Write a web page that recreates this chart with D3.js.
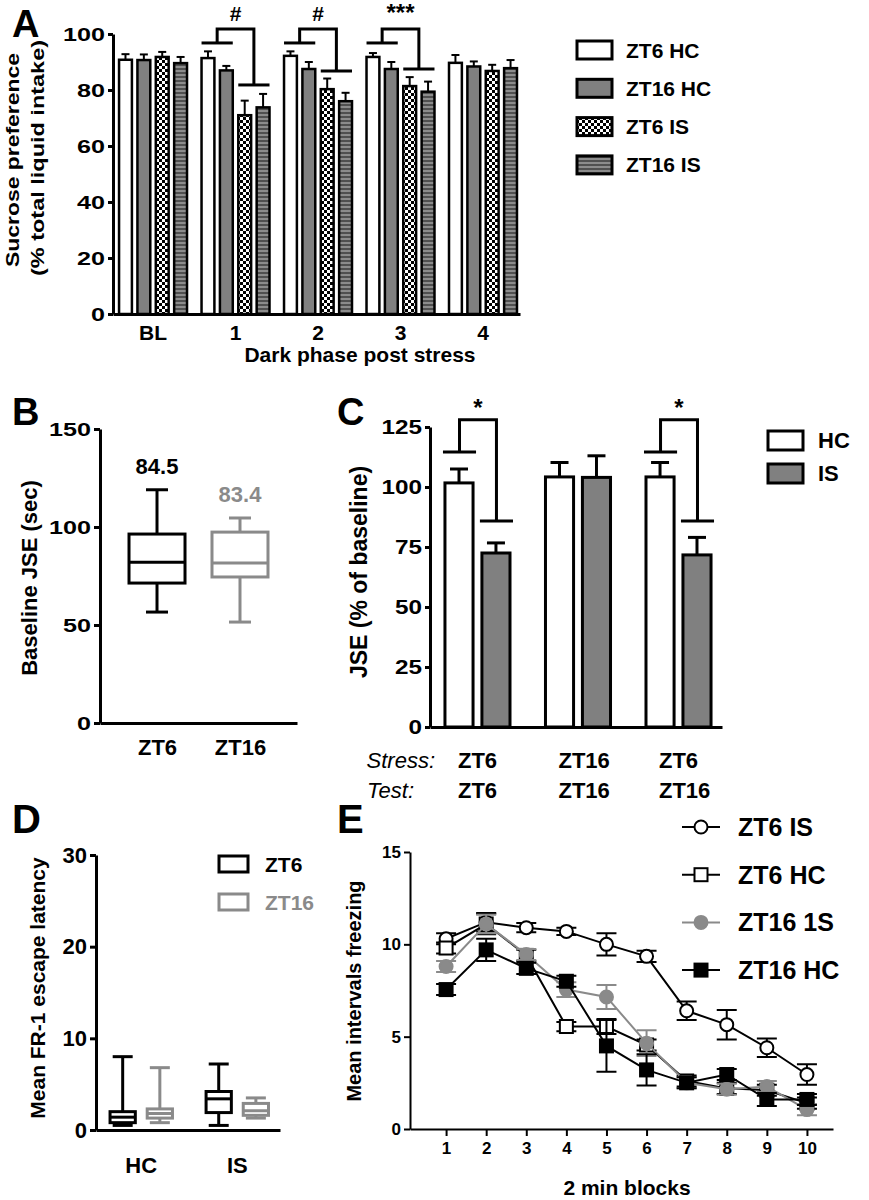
<!DOCTYPE html>
<html lang="en">
<head>
  <meta charset="utf-8" />
  <title>Stress timing figure</title>
  <script src="https://d3js.org/d3.v7.min.js"></script>
  <style>
    body { margin: 0; background: #fff; }
    svg text {
      font-family: "Liberation Sans", Arial, Helvetica, sans-serif;
      font-weight: bold;
      fill: #000;
    }
    .axis path, .axis line { stroke: #000; }
  </style>
</head>
<body>
<svg id="fig" width="869" height="1200"></svg>
<script>
/* ===== DATA ===== */

// A) sucrose preference, mean and SEM per dark phase
const phaseLabels = ["BL", "1", "2", "3", "4"];
const groupNamesA = ["ZT6 HC", "ZT16 HC", "ZT6 IS", "ZT16 IS"];
const sucZT6HC  = [90.8, 91.4, 92.2, 91.8, 89.7];
const sucZT16HC = [90.7, 87.0, 87.5, 87.5, 88.4];
const sucZT6IS  = [91.8, 71.0, 80.3, 81.4, 86.8];
const sucZT16IS = [89.6, 73.8, 76.0, 79.4, 87.8];
const semZT6HC  = [2.0, 2.4, 1.6, 1.4, 2.8];
const semZT16HC = [2.0, 1.6, 2.5, 2.5, 1.8];
const semZT6IS  = [1.8, 5.2, 3.8, 3.2, 2.2];
const semZT16IS = [2.2, 4.8, 3.0, 3.6, 2.9];
const sigPhasesA = ["1", "2", "3"];
const sigMarksA = ["#", "#", "***"];
const sigLeftA = [96.8, 96.8, 96.8];
const sigTopA = [101.8, 101.8, 101.8];
const sigRightA = [81.8, 86.8, 87.5];

// B) baseline JSE box plots: [min, q1, median, q3, max]
const groupsB = ["ZT6", "ZT16"];
const boxB = [[56.6, 71.4, 82.0, 96.4, 119.0], [51.5, 74.5, 81.6, 97.4, 104.6]];
const meanLabelsB = ["84.5", "83.4"];

// C) JSE % of baseline
const condC = ["ZT6/ZT6", "ZT16/ZT16", "ZT6/ZT16"];
const stressC = ["ZT6", "ZT16", "ZT6"];
const testC = ["ZT6", "ZT16", "ZT16"];
const seriesC = ["HC", "IS"];
const jseHC = [101.7, 104.2, 104.2];
const jseIS = [72.5, 104.0, 71.7];
const semHC_C = [5.8, 6.0, 6.0];
const semIS_C = [4.2, 9.0, 7.3];
const sigCondC = ["ZT6/ZT6", "ZT6/ZT16"];
const sigLeftC = [114.6, 114.6];
const sigTopC = [128, 128];
const sigRightC = [85.8, 85.8];

// D) FR-1 escape latency box plots: [min, q1, median, q3, max]
const condD = ["HC", "IS"];
const seriesD = ["ZT6", "ZT16"];
const boxD_ZT6  = [[0.5, 0.8, 1.4, 2.0, 8.0], [0.5, 1.9, 3.4, 4.2, 7.2]];
const boxD_ZT16 = [[0.8, 1.3, 1.8, 2.3, 6.8], [1.3, 1.6, 2.1, 2.9, 3.5]];

// E) freezing across 2 min blocks
const blocks = [1, 2, 3, 4, 5, 6, 7, 8, 9, 10];
const seriesE = ["ZT6 IS", "ZT6 HC", "ZT16 1S", "ZT16 HC"];
const frzZT6IS  = [10.3, 11.2, 10.9, 10.7, 10.0, 9.35, 6.4, 5.65, 4.4, 2.95];
const frzZT6HC  = [9.8, 11.1, 9.4, 5.55, 5.55, 4.55, 2.6, 2.2, 2.1, 1.4];
const frzZT16IS = [8.8, 11.1, 9.45, 7.55, 7.15, 4.65, 2.5, 2.15, 2.3, 1.05];
const frzZT16HC = [7.55, 9.7, 8.7, 8.0, 4.5, 3.2, 2.5, 2.95, 1.6, 1.6];
const errZT6IS  = [0.3, 0.5, 0.25, 0.2, 0.6, 0.3, 0.5, 0.8, 0.5, 0.55];
const errZT6HC  = [0.3, 0.55, 0.3, 0.25, 0.4, 0.3, 0.3, 0.3, 0.3, 0.3];
const errZT16IS = [0.3, 0.5, 0.3, 0.4, 0.65, 0.7, 0.3, 0.3, 0.3, 0.3];
const errZT16HC = [0.3, 0.6, 0.3, 0.3, 1.4, 0.85, 0.3, 0.3, 0.35, 0.3];

/* ===== SETUP ===== */
const svg = d3.select("#fig");
const GRAY = "#8a8a8a";

const defs = svg.append("defs");
const chk = defs.append("pattern").attr("id", "checker")
  .attr("patternUnits", "userSpaceOnUse").attr("width", 6).attr("height", 6);
chk.append("rect").attr("width", 6).attr("height", 6).attr("fill", "#fff");
chk.append("rect").attr("width", 3).attr("height", 3).attr("fill", "#000");
chk.append("rect").attr("x", 3).attr("y", 3).attr("width", 3).attr("height", 3).attr("fill", "#000");
const stp = defs.append("pattern").attr("id", "stripes")
  .attr("patternUnits", "userSpaceOnUse").attr("width", 4).attr("height", 4);
stp.append("rect").attr("width", 4).attr("height", 4).attr("fill", "#8c8c8c");
stp.append("rect").attr("width", 4).attr("height", 2).attr("fill", "#505050");
const fillsA = ["#fff", "#808080", "url(#checker)", "url(#stripes)"];

// style a d3 axis group
function styleAxis(g, sw, fs, charW) {
  g.attr("class", "axis").attr("font-family", null).attr("font-size", null);
  g.select(".domain").attr("stroke-width", sw);
  g.selectAll(".tick line").attr("stroke-width", sw);
  const t = g.selectAll(".tick text").style("font-size", fs + "px");
  if (charW) {
    t.attr("textLength", function () { return this.textContent.length * charW; })
     .attr("lengthAdjust", "spacingAndGlyphs");
  }
}

function yTitle(x, y, txt, fs, len) {
  const t = svg.append("text")
    .attr("transform", `translate(${x},${y}) rotate(-90)`)
    .attr("text-anchor", "middle")
    .style("font-size", fs + "px")
    .text(txt);
  if (len) t.attr("textLength", len).attr("lengthAdjust", "spacingAndGlyphs");
  return t;
}

function panelLetter(x, y, ch, fs) {
  svg.append("text").attr("x", x).attr("y", y).style("font-size", fs + "px").text(ch);
}

/* ===== A) SUCROSE PREFERENCE ===== */
const xA = d3.scaleBand().domain(phaseLabels).range([113, 520])
  .paddingInner(0.176).paddingOuter(0.055).align(0.667);
const xA1 = d3.scaleBand().domain(groupNamesA).range([0, xA.bandwidth()]).paddingInner(0.3);
const yA = d3.scaleLinear().domain([0, 100]).range([314, 34]);
const valsA = [sucZT6HC, sucZT16HC, sucZT6IS, sucZT16IS];
const semsA = [semZT6HC, semZT16HC, semZT6IS, semZT16IS];

groupNamesA.forEach((name, s) => {
  const rows = phaseLabels.map((p, i) => ({ p, v: valsA[s][i], e: semsA[s][i] }));
  const g = svg.append("g");
  const cx = d => xA(d.p) + xA1(name) + xA1.bandwidth() / 2;
  g.selectAll("line.err").data(rows).enter().append("line")
    .attr("x1", cx).attr("x2", cx)
    .attr("y1", d => yA(d.v)).attr("y2", d => yA(d.v + d.e))
    .attr("stroke", "#000").attr("stroke-width", 2);
  g.selectAll("line.cap").data(rows).enter().append("line")
    .attr("x1", d => cx(d) - 4).attr("x2", d => cx(d) + 4)
    .attr("y1", d => yA(d.v + d.e)).attr("y2", d => yA(d.v + d.e))
    .attr("stroke", "#000").attr("stroke-width", 2);
  g.selectAll("rect").data(rows).enter().append("rect")
    .attr("x", d => xA(d.p) + xA1(name))
    .attr("y", d => yA(d.v))
    .attr("width", xA1.bandwidth())
    .attr("height", d => yA(0) - yA(d.v))
    .attr("fill", fillsA[s]).attr("stroke", "#000").attr("stroke-width", 2.5);
});

// significance brackets
sigPhasesA.forEach((p, i) => {
  const l0 = xA(p) + xA1(groupNamesA[0]), l1 = xA(p) + xA1(groupNamesA[1]) + xA1.bandwidth();
  const r0 = xA(p) + xA1(groupNamesA[2]), r1 = xA(p) + xA1(groupNamesA[3]) + xA1.bandwidth();
  const lm = (l0 + l1) / 2, rm = (r0 + r1) / 2;
  const g = svg.append("g").attr("fill", "none").attr("stroke", "#000").attr("stroke-width", 3);
  g.append("line").attr("x1", l0).attr("x2", l1).attr("y1", yA(sigLeftA[i])).attr("y2", yA(sigLeftA[i]));
  g.append("line").attr("x1", r0).attr("x2", r1).attr("y1", yA(sigRightA[i])).attr("y2", yA(sigRightA[i]));
  g.append("path").attr("d",
    `M${lm},${yA(sigLeftA[i])}V${yA(sigTopA[i])}H${rm}V${yA(sigRightA[i])}`);
  svg.append("text").attr("x", (lm + rm) / 2).attr("y", yA(sigTopA[i]) - 8)
    .attr("text-anchor", "middle").style("font-size", sigMarksA[i] === "#" ? "21px" : "24px")
    .text(sigMarksA[i]);
});

const gAy = svg.append("g").attr("transform", "translate(113,0)")
  .call(d3.axisLeft(yA).tickValues([0, 20, 40, 60, 80, 100]).tickSize(5).tickSizeOuter(0).tickPadding(3));
styleAxis(gAy, 3, 19, 14);
const gAx = svg.append("g").attr("transform", "translate(0,314)")
  .call(d3.axisBottom(xA).tickSize(0).tickSizeOuter(0).tickPadding(11));
styleAxis(gAx, 3, 21);
svg.append("text").attr("x", 360).attr("y", 362).attr("text-anchor", "middle")
  .style("font-size", "21px").text("Dark phase post stress");
yTitle(19, 160, "Sucrose preference", 18, 214);
yTitle(44, 158, "(% total liquid intake)", 18, 236);
panelLetter(12, 37, "A", 38);

// legend A
groupNamesA.forEach((name, s) => {
  const cy = 50 + s * 38.3;
  svg.append("rect").attr("x", 577).attr("y", cy - 9).attr("width", 35).attr("height", 18)
    .attr("fill", fillsA[s]).attr("stroke", "#000").attr("stroke-width", 3);
  svg.append("text").attr("x", 626).attr("y", cy + 7.5).style("font-size", "21px").text(name);
});

/* ===== B) BASELINE JSE ===== */
const xB = d3.scalePoint().domain(groupsB).range([100, 297]).padding(0.687);
const yB = d3.scaleLinear().domain([0, 150]).range([723, 429]);
const colB = ["#000", GRAY];

groupsB.forEach((name, i) => {
  const [mn, q1, md, q3, mx] = boxB[i];
  const cx = xB(name);
  const g = svg.append("g").attr("stroke", colB[i]).attr("stroke-width", 3).attr("fill", "none");
  g.append("line").attr("x1", cx).attr("x2", cx).attr("y1", yB(mx)).attr("y2", yB(q3));
  g.append("line").attr("x1", cx).attr("x2", cx).attr("y1", yB(q1)).attr("y2", yB(mn));
  g.append("line").attr("x1", cx - 11).attr("x2", cx + 11).attr("y1", yB(mx)).attr("y2", yB(mx));
  g.append("line").attr("x1", cx - 11).attr("x2", cx + 11).attr("y1", yB(mn)).attr("y2", yB(mn));
  g.append("rect").attr("x", cx - 28).attr("width", 56)
    .attr("y", yB(q3)).attr("height", yB(q1) - yB(q3));
  g.append("line").attr("x1", cx - 28).attr("x2", cx + 28).attr("y1", yB(md)).attr("y2", yB(md));
  svg.append("text").attr("x", cx).attr("y", yB(mx) - 16).attr("text-anchor", "middle")
    .style("font-size", "22px").style("fill", colB[i]).text(meanLabelsB[i]);
});

const gBy = svg.append("g").attr("transform", "translate(100,0)")
  .call(d3.axisLeft(yB).tickValues([0, 50, 100, 150]).tickSize(6).tickSizeOuter(0).tickPadding(3));
styleAxis(gBy, 3, 19, 14);
const gBx = svg.append("g").attr("transform", "translate(0,723)")
  .call(d3.axisBottom(xB).tickSize(0).tickSizeOuter(0).tickPadding(16));
styleAxis(gBx, 3, 22);
yTitle(37, 578, "Baseline JSE (sec)", 22);
panelLetter(12, 425, "B", 38);

/* ===== C) JSE % BASELINE ===== */
const xC = d3.scaleBand().domain(condC).range([430, 722])
  .paddingInner(0.353).paddingOuter(0.129).align(0.577);
const xC1 = d3.scaleBand().domain(seriesC).range([0, xC.bandwidth()]).paddingInner(0.24);
const yC = d3.scaleLinear().domain([0, 125]).range([727, 427]);
const valsC = [jseHC, jseIS];
const semsC = [semHC_C, semIS_C];
const fillsC = ["#fff", "#808080"];

seriesC.forEach((name, s) => {
  const rows = condC.map((c, i) => ({ c, v: valsC[s][i], e: semsC[s][i] }));
  const g = svg.append("g");
  const cx = d => xC(d.c) + xC1(name) + xC1.bandwidth() / 2;
  g.selectAll("line.err").data(rows).enter().append("line")
    .attr("x1", cx).attr("x2", cx).attr("y1", d => yC(d.v)).attr("y2", d => yC(d.v + d.e))
    .attr("stroke", "#000").attr("stroke-width", 3);
  g.selectAll("line.cap").data(rows).enter().append("line")
    .attr("x1", d => cx(d) - 9).attr("x2", d => cx(d) + 9)
    .attr("y1", d => yC(d.v + d.e)).attr("y2", d => yC(d.v + d.e))
    .attr("stroke", "#000").attr("stroke-width", 3);
  g.selectAll("rect").data(rows).enter().append("rect")
    .attr("x", d => xC(d.c) + xC1(name)).attr("y", d => yC(d.v))
    .attr("width", xC1.bandwidth()).attr("height", d => yC(0) - yC(d.v))
    .attr("fill", fillsC[s]).attr("stroke", "#000").attr("stroke-width", 3);
});

sigCondC.forEach((c, i) => {
  const l0 = xC(c) + xC1("HC") - 2, l1 = xC(c) + xC1("HC") + xC1.bandwidth() + 3;
  const r0 = xC(c) + xC1("IS") - 2, r1 = xC(c) + xC1("IS") + xC1.bandwidth() + 3;
  const lm = (l0 + l1) / 2, rm = (r0 + r1) / 2;
  const g = svg.append("g").attr("fill", "none").attr("stroke", "#000").attr("stroke-width", 3);
  g.append("line").attr("x1", l0).attr("x2", l1).attr("y1", yC(sigLeftC[i])).attr("y2", yC(sigLeftC[i]));
  g.append("line").attr("x1", r0).attr("x2", r1).attr("y1", yC(sigRightC[i])).attr("y2", yC(sigRightC[i]));
  g.append("path").attr("d", `M${lm},${yC(sigLeftC[i])}V${yC(sigTopC[i])}H${rm}V${yC(sigRightC[i])}`);
  svg.append("text").attr("x", (lm + rm) / 2).attr("y", yC(sigTopC[i]) - 4)
    .attr("text-anchor", "middle").style("font-size", "24px").text("*");
});

const gCy = svg.append("g").attr("transform", "translate(430,0)")
  .call(d3.axisLeft(yC).tickValues([0, 25, 50, 75, 100, 125]).tickSize(5).tickSizeOuter(0).tickPadding(3));
styleAxis(gCy, 3, 20, 13.5);
const gCx = svg.append("g").attr("transform", "translate(0,727)")
  .call(d3.axisBottom(xC).tickSize(0).tickSizeOuter(0).tickFormat(""));
styleAxis(gCx, 3, 20);
yTitle(367, 572, "JSE (% of baseline)", 23);
panelLetter(337, 425, "C", 38);

svg.append("text").attr("x", 435).attr("y", 768).attr("text-anchor", "end")
  .style("font-size", "22px").style("font-style", "italic").style("font-weight", "normal").text("Stress:");
svg.append("text").attr("x", 414).attr("y", 798).attr("text-anchor", "end")
  .style("font-size", "22px").style("font-style", "italic").style("font-weight", "normal").text("Test:");
condC.forEach((c, i) => {
  svg.append("text").attr("x", xC(c) + 13).attr("y", 768).style("font-size", "22px").text(stressC[i]);
  svg.append("text").attr("x", xC(c) + 13).attr("y", 798).style("font-size", "22px").text(testC[i]);
});

// legend C
seriesC.forEach((name, s) => {
  const cy = 440 + s * 33;
  svg.append("rect").attr("x", 768).attr("y", cy - 9).attr("width", 35).attr("height", 19)
    .attr("fill", fillsC[s]).attr("stroke", "#000").attr("stroke-width", 3);
  svg.append("text").attr("x", 818).attr("y", cy + 8).style("font-size", "22px").text(name);
});

/* ===== D) ESCAPE LATENCY ===== */
const xD = d3.scaleBand().domain(condD).range([96, 280])
  .paddingInner(0.35).paddingOuter(0.133).align(0.55);
const xD1 = d3.scaleBand().domain(seriesD).range([0, xD.bandwidth()]).paddingInner(0.32);
const yD = d3.scaleLinear().domain([0, 30]).range([1130, 855]);
const boxesD = [boxD_ZT6, boxD_ZT16];
const colD = ["#000", GRAY];

seriesD.forEach((name, s) => {
  condD.forEach((c, i) => {
    const [mn, q1, md, q3, mx] = boxesD[s][i];
    const x0 = xD(c) + xD1(name), w = xD1.bandwidth(), cx = x0 + w / 2;
    const g = svg.append("g").attr("stroke", colD[s]).attr("stroke-width", 3).attr("fill", "none");
    g.append("line").attr("x1", cx).attr("x2", cx).attr("y1", yD(mx)).attr("y2", yD(mn));
    g.append("line").attr("x1", cx - 10).attr("x2", cx + 10).attr("y1", yD(mx)).attr("y2", yD(mx));
    g.append("line").attr("x1", cx - 10).attr("x2", cx + 10).attr("y1", yD(mn)).attr("y2", yD(mn));
    g.append("rect").attr("x", x0).attr("width", w).attr("y", yD(q3)).attr("height", yD(q1) - yD(q3))
      .attr("fill", "#fff");
    g.append("line").attr("x1", x0).attr("x2", x0 + w).attr("y1", yD(md)).attr("y2", yD(md));
  });
});

const gDy = svg.append("g").attr("transform", "translate(96,0)")
  .call(d3.axisLeft(yD).tickValues([0, 10, 20, 30]).tickSize(6).tickSizeOuter(0).tickPadding(3));
styleAxis(gDy, 3, 22);
const gDx = svg.append("g").attr("transform", "translate(0,1130)")
  .call(d3.axisBottom(xD).tickSize(0).tickSizeOuter(0).tickPadding(27));
styleAxis(gDx, 3, 22);
yTitle(45, 988, "Mean FR-1 escape latency", 21);
panelLetter(12, 833, "D", 40);

seriesD.forEach((name, s) => {
  const cy = 864 + s * 38;
  svg.append("rect").attr("x", 219).attr("y", cy - 8).attr("width", 29).attr("height", 16)
    .attr("fill", "#fff").attr("stroke", colD[s]).attr("stroke-width", 3);
  svg.append("text").attr("x", 265).attr("y", cy + 8).style("font-size", "21px")
    .style("fill", colD[s]).text(name);
});

/* ===== E) FREEZING ===== */
const xE = d3.scaleLinear().domain([0.1, 10.65]).range([410, 833]);
const yE = d3.scaleLinear().domain([0, 15]).range([1129, 852]);
const valsE = [frzZT6IS, frzZT6HC, frzZT16IS, frzZT16HC];
const errsE = [errZT6IS, errZT6HC, errZT16IS, errZT16HC];
const lineColE = ["#000", "#000", GRAY, "#000"];
const markE = [
  { shape: "circle", fill: "#fff", stroke: "#000" },
  { shape: "square", fill: "#fff", stroke: "#000" },
  { shape: "circle", fill: GRAY, stroke: GRAY },
  { shape: "square", fill: "#000", stroke: "#000" }
];

function drawMarker(g, m, x, y) {
  if (m.shape === "circle") {
    g.append("circle").attr("cx", x).attr("cy", y).attr("r", 6.5)
      .attr("fill", m.fill).attr("stroke", m.stroke).attr("stroke-width", 2);
  } else {
    g.append("rect").attr("x", x - 6.5).attr("y", y - 6.5).attr("width", 13).attr("height", 13)
      .attr("fill", m.fill).attr("stroke", m.stroke).attr("stroke-width", 2);
  }
}

seriesE.forEach((name, s) => {
  const rows = blocks.map((b, i) => ({ b, v: valsE[s][i], e: errsE[s][i] }));
  const g = svg.append("g");
  g.selectAll("line.err").data(rows).enter().append("path")
    .attr("d", d => {
      const x = xE(d.b), t = yE(d.v + d.e), b = yE(d.v - d.e);
      return `M${x - 10},${t}H${x + 10}M${x},${t}V${b}M${x - 10},${b}H${x + 10}`;
    })
    .attr("stroke", lineColE[s]).attr("stroke-width", 2).attr("fill", "none");
  g.append("path").datum(rows)
    .attr("d", d3.line().x(d => xE(d.b)).y(d => yE(d.v)))
    .attr("fill", "none").attr("stroke", lineColE[s]).attr("stroke-width", 2);
  rows.forEach(d => drawMarker(g, markE[s], xE(d.b), yE(d.v)));
});

const gEy = svg.append("g").attr("transform", "translate(410,0)")
  .call(d3.axisLeft(yE).tickValues([0, 5, 10, 15]).tickSize(6).tickSizeOuter(0).tickPadding(3));
styleAxis(gEy, 2, 17);
const gEx = svg.append("g").attr("transform", "translate(0,1129)")
  .call(d3.axisBottom(xE).tickValues(blocks).tickFormat(d3.format("d")).tickSize(7).tickSizeOuter(0).tickPadding(6));
styleAxis(gEx, 2, 17);
svg.append("text").attr("x", 627).attr("y", 1195).attr("text-anchor", "middle")
  .style("font-size", "21px").text("2 min blocks");
yTitle(361, 991, "Mean intervals freezing", 20);
panelLetter(337, 833, "E", 40);

seriesE.forEach((name, s) => {
  const cy = 827 + s * 47.7;
  const g = svg.append("g");
  g.append("line").attr("x1", 682).attr("x2", 720).attr("y1", cy).attr("y2", cy)
    .attr("stroke", lineColE[s]).attr("stroke-width", 2);
  drawMarker(g, markE[s], 701, cy);
  svg.append("text").attr("x", 738).attr("y", cy + 9).style("font-size", "25px").text(name);
});
</script>
</body>
</html>
